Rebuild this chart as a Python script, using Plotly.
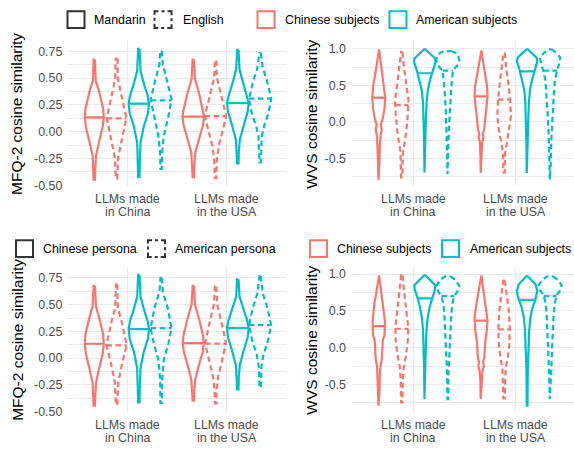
import numpy as np
import plotly.graph_objects as go

# ---------------------------------------------------------------- data
categories = ["LLMs made\nin China", "LLMs made\nin the USA"]
subject_labels = ["Chinese subjects", "American subjects"]
language_labels = ["Mandarin", "English"]
persona_labels = ["Chinese persona", "American persona"]

mfq_title = "MFQ-2 cosine similarity"
wvs_title = "WVS cosine similarity"
mfq_ticks = [-0.5, -0.25, 0.0, 0.25, 0.5, 0.75]
mfq_tick_text = ["-0.50", "-0.25", "0.00", "0.25", "0.50", "0.75"]
wvs_ticks = [-0.5, 0.0, 0.5, 1.0]
wvs_tick_text = ["-0.5", "0.0", "0.5", "1.0"]

# Violin outlines: similarity levels (top -> bottom) and relative density width.
# Order inside each panel: China LLMs [CN subj solid, CN subj dashed,
# US subj solid, US subj dashed], then USA LLMs in the same order.
mfq_lang_y = [
    [0.674, 0.476, 0.384, 0.216, 0.134, 0.049, -0.104, -0.226, -0.348, -0.448],
    [0.683, 0.491, 0.354, 0.125, -0.043, -0.241, -0.439],
    [0.774, 0.567, 0.430, 0.338, 0.262, 0.171, 0.049, -0.104, -0.287, -0.424],
    [0.756, 0.628, 0.476, 0.299, 0.140, -0.043, -0.195, -0.348],
    [0.674, 0.491, 0.354, 0.186, 0.140, 0.064, -0.073, -0.195, -0.317, -0.424],
    [0.665, 0.506, 0.354, 0.146, 0.018, -0.134, -0.256, -0.433],
    [0.765, 0.582, 0.445, 0.338, 0.268, 0.186, 0.064, -0.073, -0.180, -0.296],
    [0.735, 0.598, 0.460, 0.308, 0.171, 0.049, -0.043, -0.165, -0.287],
]
mfq_lang_w = [
    [0.06, 0.12, 0.41, 0.79, 0.85, 0.76, 0.41, 0.15, 0.09, 0.06],
    [0.09, 0.12, 0.41, 0.88, 0.53, 0.15, 0.06],
    [0.06, 0.15, 0.50, 0.79, 0.91, 0.82, 0.44, 0.15, 0.09, 0.06],
    [0.06, 0.15, 0.53, 0.94, 0.65, 0.24, 0.09, 0.06],
    [0.06, 0.15, 0.53, 0.91, 0.97, 0.88, 0.50, 0.18, 0.09, 0.06],
    [0.06, 0.12, 0.47, 0.97, 0.65, 0.29, 0.12, 0.06],
    [0.06, 0.15, 0.50, 0.82, 0.97, 0.88, 0.53, 0.18, 0.09, 0.06],
    [0.06, 0.24, 0.65, 1.00, 0.74, 0.35, 0.15, 0.09, 0.06],
]
mfq_lang_median = [0.134, 0.125, 0.262, 0.293, 0.140, 0.146, 0.268, 0.308]

wvs_lang_y = [
    [0.991, 0.879, 0.699, 0.475, 0.331, 0.183, 0.048, -0.041, -0.109, -0.198, -0.333, -0.557, -0.791],
    [0.955, 0.789, 0.565, 0.295, 0.116, -0.109, -0.288, -0.400, -0.557, -0.759],
    [1.000, 0.946, 0.870, 0.825, 0.767, 0.677, 0.565, 0.430, 0.250, 0.026, -0.288, -0.692],
    [0.969, 0.946, 0.901, 0.843, 0.789, 0.744, 0.699, 0.565, 0.385, 0.161, -0.109, -0.423, -0.715],
    [0.978, 0.834, 0.654, 0.475, 0.349, 0.206, 0.026, -0.109, -0.162, -0.207, -0.288, -0.468, -0.701],
    [0.946, 0.744, 0.520, 0.295, 0.071, -0.153, -0.288, -0.423, -0.692],
    [1.000, 0.946, 0.879, 0.825, 0.767, 0.690, 0.565, 0.430, 0.250, -0.019, -0.333, -0.701],
    [0.991, 0.946, 0.879, 0.798, 0.699, 0.565, 0.385, 0.161, -0.064, -0.288, -0.557, -0.791],
]
wvs_lang_w = [
    [0.03, 0.12, 0.26, 0.50, 0.56, 0.50, 0.35, 0.18, 0.26, 0.15, 0.09, 0.06, 0.03],
    [0.06, 0.15, 0.35, 0.59, 0.53, 0.41, 0.24, 0.12, 0.06, 0.06],
    [0.00, 0.35, 0.88, 0.94, 0.82, 0.65, 0.44, 0.26, 0.15, 0.09, 0.06, 0.03],
    [0.29, 0.65, 0.91, 1.00, 0.91, 0.71, 0.44, 0.35, 0.26, 0.18, 0.09, 0.06, 0.03],
    [0.03, 0.15, 0.35, 0.53, 0.56, 0.47, 0.35, 0.26, 0.15, 0.21, 0.09, 0.06, 0.03],
    [0.06, 0.18, 0.38, 0.53, 0.59, 0.41, 0.24, 0.09, 0.06],
    [0.00, 0.35, 0.82, 0.88, 0.76, 0.62, 0.41, 0.24, 0.15, 0.09, 0.06, 0.03],
    [0.12, 0.53, 0.88, 0.79, 0.59, 0.41, 0.32, 0.24, 0.15, 0.09, 0.06, 0.03],
]
wvs_lang_median = [0.331, 0.228, 0.665, 0.700, 0.349, 0.304, 0.690, 0.700]

mfq_persona_y = [
    [0.677, 0.485, 0.378, 0.226, 0.134, 0.043, -0.110, -0.232, -0.354, -0.445],
    [0.689, 0.470, 0.348, 0.119, -0.049, -0.232, -0.439],
    [0.780, 0.576, 0.439, 0.348, 0.271, 0.180, 0.058, -0.095, -0.262, -0.415],
    [0.750, 0.622, 0.470, 0.280, 0.134, -0.018, -0.201, -0.421],
    [0.677, 0.500, 0.363, 0.210, 0.140, 0.058, -0.079, -0.201, -0.308, -0.399],
    [0.668, 0.500, 0.348, 0.140, -0.018, -0.171, -0.293, -0.424],
    [0.738, 0.576, 0.454, 0.348, 0.280, 0.195, 0.073, -0.064, -0.171, -0.293],
    [0.768, 0.607, 0.470, 0.308, 0.165, 0.027, -0.079, -0.171, -0.277],
]
mfq_persona_w = [
    [0.06, 0.15, 0.44, 0.79, 0.85, 0.76, 0.41, 0.15, 0.09, 0.06],
    [0.06, 0.12, 0.44, 0.91, 0.50, 0.15, 0.06],
    [0.06, 0.15, 0.50, 0.79, 0.91, 0.82, 0.44, 0.15, 0.09, 0.06],
    [0.06, 0.15, 0.59, 0.94, 0.65, 0.24, 0.09, 0.06],
    [0.06, 0.15, 0.53, 0.88, 0.94, 0.85, 0.47, 0.18, 0.09, 0.06],
    [0.06, 0.15, 0.50, 0.94, 0.59, 0.24, 0.09, 0.06],
    [0.06, 0.15, 0.53, 0.85, 0.97, 0.88, 0.53, 0.18, 0.09, 0.06],
    [0.06, 0.24, 0.65, 1.00, 0.71, 0.29, 0.12, 0.09, 0.06],
]
mfq_persona_median = [0.134, 0.119, 0.271, 0.280, 0.140, 0.135, 0.280, 0.308]

wvs_persona_y = [
    [0.982, 0.813, 0.591, 0.368, 0.293, 0.168, 0.101, -0.032, -0.165, -0.254, -0.388, -0.610, -0.788],
    [0.982, 0.769, 0.546, 0.279, 0.101, -0.121, -0.254, -0.432, -0.744],
    [0.991, 0.924, 0.849, 0.791, 0.724, 0.671, 0.546, 0.413, 0.235, 0.012, -0.299, -0.699],
    [0.969, 0.924, 0.835, 0.760, 0.702, 0.591, 0.413, 0.190, -0.077, -0.343, -0.699],
    [0.982, 0.813, 0.591, 0.413, 0.368, 0.235, 0.057, -0.121, -0.188, -0.254, -0.321, -0.477, -0.699],
    [0.911, 0.724, 0.502, 0.248, 0.012, -0.165, -0.277, -0.432, -0.690],
    [0.982, 0.924, 0.858, 0.769, 0.702, 0.649, 0.546, 0.413, 0.235, 0.012, -0.299, -0.788],
    [0.969, 0.924, 0.849, 0.778, 0.724, 0.591, 0.413, 0.190, -0.077, -0.343, -0.699],
]
wvs_persona_w = [
    [0.03, 0.18, 0.38, 0.53, 0.53, 0.50, 0.35, 0.29, 0.26, 0.15, 0.09, 0.06, 0.03],
    [0.06, 0.18, 0.35, 0.56, 0.53, 0.35, 0.18, 0.09, 0.06],
    [0.00, 0.41, 0.91, 0.88, 0.74, 0.62, 0.41, 0.26, 0.15, 0.09, 0.06, 0.03],
    [0.24, 0.65, 1.00, 0.82, 0.56, 0.38, 0.29, 0.21, 0.12, 0.06, 0.03],
    [0.03, 0.18, 0.41, 0.56, 0.56, 0.50, 0.35, 0.29, 0.18, 0.24, 0.12, 0.06, 0.03],
    [0.06, 0.24, 0.41, 0.50, 0.44, 0.29, 0.15, 0.09, 0.06],
    [0.00, 0.35, 0.74, 0.88, 0.82, 0.71, 0.47, 0.29, 0.18, 0.12, 0.06, 0.03],
    [0.24, 0.65, 1.00, 0.88, 0.59, 0.38, 0.29, 0.21, 0.15, 0.09, 0.03],
]
wvs_persona_median = [0.293, 0.257, 0.671, 0.700, 0.368, 0.248, 0.649, 0.700]

# ---------------------------------------------------------------- styling
W, H = 574, 454
FONT = "Liberation Sans, Arial, Helvetica, sans-serif"
RED, TEAL, INK = "#F8766D", "#00BFC4", "#333333"
GRID = "#EBEBEB"
TICK_COL = "#4D4D4D"
DASH = "5.5px,3.5px"
LW = 2.2
DODGE = 0.9 / 4               # width of each dodged violin slot
OFFSETS = [-1.5 * DODGE, -0.5 * DODGE, 0.5 * DODGE, 1.5 * DODGE]


def px(x):
    return x / W


def py(y):
    return 1 - y / H


# panel geometry in pixels: (x0, x1), (top, bottom)
LEFT_X, RIGHT_X = (68.3, 286.1), (351.9, 577.0)
TOP_Y, BOT_Y = (42.0, 188.5), (272.0, 418.5)

panels = [
    dict(ys=mfq_lang_y, ws=mfq_lang_w, med=mfq_lang_median, ticks=mfq_ticks,
         tick_text=mfq_tick_text, title=mfq_title, xs=LEFT_X, yp=TOP_Y),
    dict(ys=wvs_lang_y, ws=wvs_lang_w, med=wvs_lang_median, ticks=wvs_ticks,
         tick_text=wvs_tick_text, title=wvs_title, xs=RIGHT_X, yp=TOP_Y),
    dict(ys=mfq_persona_y, ws=mfq_persona_w, med=mfq_persona_median, ticks=mfq_ticks,
         tick_text=mfq_tick_text, title=mfq_title, xs=LEFT_X, yp=BOT_Y),
    dict(ys=wvs_persona_y, ws=wvs_persona_w, med=wvs_persona_median, ticks=wvs_ticks,
         tick_text=wvs_tick_text, title=wvs_title, xs=RIGHT_X, yp=BOT_Y),
]

fig = go.Figure()
annotations = []
shapes = []
layout_axes = {}

for p_i, p in enumerate(panels, start=1):
    xa = "x" if p_i == 1 else f"x{p_i}"
    ya = "y" if p_i == 1 else f"y{p_i}"

    # violins and median bars
    for k, (yv, wv, m) in enumerate(zip(p["ys"], p["ws"], p["med"])):
        cat, slot = divmod(k, 4)
        centre = cat + 1 + OFFSETS[slot]
        colour = RED if slot < 2 else TEAL
        dash = "solid" if slot % 2 == 0 else DASH
        y = np.asarray(yv, dtype=float)
        hw = np.asarray(wv, dtype=float) * DODGE / 2
        xs = np.concatenate([centre + hw, (centre - hw)[::-1], [centre + hw[0]]])
        ys = np.concatenate([y, y[::-1], [y[0]]])
        fig.add_trace(go.Scatter(
            x=xs, y=ys, mode="lines", xaxis=xa, yaxis=ya,
            line=dict(color=colour, width=LW, dash=dash),
            showlegend=False, hoverinfo="skip"))
        mw = np.interp(m, y[::-1], hw[::-1])
        fig.add_trace(go.Scatter(
            x=[centre - mw, centre + mw], y=[m, m], mode="lines",
            xaxis=xa, yaxis=ya,
            line=dict(color=colour, width=LW, dash=dash),
            showlegend=False, hoverinfo="skip"))

    # axis ranges: ggplot-style 5% expansion of the data span
    all_y = np.concatenate([np.asarray(v) for v in p["ys"]])
    lo, hi = all_y.min(), all_y.max()
    pad = 0.05 * (hi - lo)
    step = p["ticks"][1] - p["ticks"][0]
    minor_vals = [t + step / 2 for t in [p["ticks"][0] - step] + p["ticks"]]

    x0, x1 = p["xs"]
    unit = (x1 - x0) / 2.2
    x_dom_hi = min(x1, W)
    x_rng_hi = 2.6 - (x1 - x_dom_hi) / unit

    layout_axes["xaxis" if p_i == 1 else f"xaxis{p_i}"] = dict(
        domain=[px(x0), px(x_dom_hi)], range=[0.4, x_rng_hi], anchor=ya,
        tickvals=[1, 2], showticklabels=False, ticks="",
        showgrid=True, gridcolor=GRID, gridwidth=1.1,
        zeroline=False, showline=False, fixedrange=True)
    layout_axes["yaxis" if p_i == 1 else f"yaxis{p_i}"] = dict(
        domain=[py(p["yp"][1]), py(p["yp"][0])], range=[lo - pad, hi + pad],
        anchor=xa, tickvals=p["ticks"], ticktext=p["tick_text"], ticks="",
        ticklabelstandoff=5,
        tickfont=dict(family=FONT, size=12.4, color=TICK_COL),
        showgrid=True, gridcolor=GRID, gridwidth=1.1,
        minor=dict(tickvals=minor_vals, showgrid=True, gridcolor=GRID, gridwidth=0.6),
        zeroline=False, showline=False, fixedrange=True)

    # y-axis title
    title_x = 16.7 if x0 < 200 else 311.5
    annotations.append(dict(
        text=p["title"], xref="paper", yref="paper", x=px(title_x),
        y=py(sum(p["yp"]) / 2), textangle=-90, showarrow=False,
        xanchor="center", yanchor="middle",
        font=dict(family=FONT, size=15.5, color="black")))

    # two-line category labels
    base = 201.7 if p["yp"][0] < 200 else 431.7
    for c_i, label in enumerate(categories):
        for l_i, line in enumerate(label.split("\n")):
            annotations.append(dict(
                text=line, xref=xa, yref="paper", x=c_i + 1,
                y=py(base + 13.0 * l_i), showarrow=False,
                xanchor="center", yanchor="middle",
                font=dict(family=FONT, size=12.4, color=TICK_COL)))

# ---------------------------------------------------------------- legends
KEY_DASH = ("4px,3px,3px,3px,8px,3px,3px,3px,8px,3px,3px,3px,"
            "8px,3px,3px,3px,4px")


def key(x0, top, size, colour, dashed, label, text_x):
    x1, bottom = x0 + size, top + size
    path = (f"M{px(x0)},{py(top)} L{px(x1)},{py(top)} L{px(x1)},{py(bottom)} "
            f"L{px(x0)},{py(bottom)} Z")
    shapes.append(dict(type="path", path=path, xref="paper", yref="paper",
                       line=dict(color=colour, width=2,
                                 dash=KEY_DASH if dashed else "solid")))
    annotations.append(dict(
        text=label, xref="paper", yref="paper", x=px(text_x),
        y=py(top + size / 2), showarrow=False, xanchor="left", yanchor="middle",
        font=dict(family=FONT, size=12.4, color="black")))


# top row: prompt language
key(67.5, 10.5, 17, INK, False, language_labels[0], 92)
key(154.5, 10.5, 17, INK, True, language_labels[1], 181)
key(257.5, 10.5, 17, RED, False, subject_labels[0], 283)
key(389.5, 10.5, 17, TEAL, False, subject_labels[1], 414)
# bottom row: persona
key(16, 243.5, 17, INK, False, persona_labels[0], 41)
key(148, 243.5, 17, INK, True, persona_labels[1], 173)
key(310, 243.5, 17, RED, False, subject_labels[0], 335)
key(442, 243.5, 17, TEAL, False, subject_labels[1], 468)

fig.update_layout(
    width=W, height=H, margin=dict(l=0, r=0, t=0, b=0),
    paper_bgcolor="white", plot_bgcolor="white",
    showlegend=False, annotations=annotations, shapes=shapes,
    font=dict(family=FONT), **layout_axes)

fig.write_html("out.html")
